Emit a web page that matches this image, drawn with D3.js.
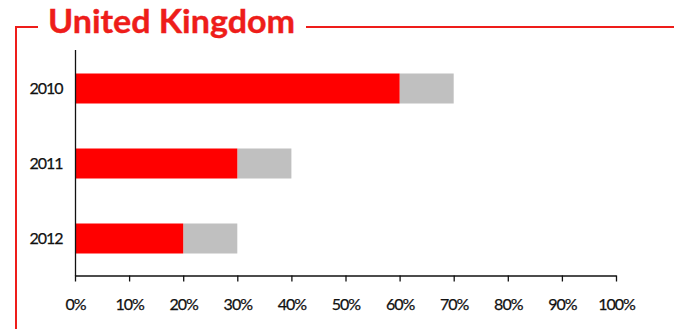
<!DOCTYPE html>
<html>
<head>
<meta charset="utf-8">
<script src="https://cdn.jsdelivr.net/npm/d3@7"></script>
<style>
  html, body { margin: 0; padding: 0; background: #fff; }
  svg { display: block; }
</style>
</head>
<body>
<svg id="chart" width="674" height="329"></svg>
<script>
// Chart content
const title = "United Kingdom";
const years = ["2010", "2011", "2012"];
const primaryShare = [60, 30, 20];   // red segment, %
const secondaryShare = [10, 10, 10]; // grey segment stacked on top, %
const tickValues = [0, 10, 20, 30, 40, 50, 60, 70, 80, 90, 100];

const W = 674, H = 329;
const svg = d3.select("#chart");
const font = "Lato, 'Open Sans', sans-serif";
const frameRed = "#ee1d1a";

// Frame: red rule running from the left edge behind the title
const frame = svg.append("g").attr("fill", "none").attr("stroke", frameRed).attr("stroke-width", 2);
frame.append("path").attr("d", `M16,${H} V27 H38`);
frame.append("path").attr("d", `M306,27 H${W}`);

// Title
svg.append("text")
  .attr("x", 48).attr("y", 33)
  .attr("font-family", font)
  .attr("font-weight", 700)
  .attr("font-size", 33)
  .attr("fill", frameRed)
  .attr("stroke", frameRed).attr("stroke-width", 0.4)
  .attr("textLength", 247)
  .attr("lengthAdjust", "spacingAndGlyphs")
  .text(title);

// Scales
const x = d3.scaleLinear().domain([0, 100]).range([75, 616]);
const y = d3.scaleBand().domain(years).range([51, 276]).paddingInner(0.6).paddingOuter(0.3);

// Bars: red primary segment followed by grey segment
const rows = years.map((yr, i) => ({ yr, a: primaryShare[i], b: secondaryShare[i] }));
const bars = svg.append("g");
bars.selectAll("rect.b").data(rows).join("rect")
  .attr("x", d => x(d.a))
  .attr("width", d => x(d.a + d.b) - x(d.a))
  .attr("y", d => y(d.yr))
  .attr("height", y.bandwidth())
  .attr("fill", "#c0c0c0");
bars.selectAll("rect.a").data(rows).join("rect")
  .attr("x", x(0))
  .attr("width", d => x(d.a) - x(0))
  .attr("y", d => y(d.yr))
  .attr("height", y.bandwidth())
  .attr("fill", "#ff0000");

// X axis
const xAxis = svg.append("g")
  .attr("transform", "translate(0,275.5)")
  .call(d3.axisBottom(x).tickValues(tickValues).tickFormat(d => d + "%").tickSize(6).tickSizeOuter(0).tickPadding(17));
xAxis.select(".domain").attr("stroke", "#111").attr("stroke-width", 1.3);
xAxis.selectAll(".tick line").attr("stroke", "#111").attr("stroke-width", 1.3);
xAxis.selectAll("text")
  .attr("font-family", font).attr("font-size", 16).attr("fill", "#111")
  .attr("stroke", "#111").attr("stroke-width", 0.25)
  .attr("letter-spacing", -1);

// Y axis
const yAxis = svg.append("g")
  .attr("transform", "translate(75.5,0)")
  .call(d3.axisLeft(y).tickSize(0).tickPadding(13));
yAxis.select(".domain").attr("d", "M0,50V276").attr("stroke", "#111").attr("stroke-width", 1.3);
yAxis.selectAll("text")
  .attr("font-family", font).attr("font-size", 16).attr("fill", "#111")
  .attr("stroke", "#111").attr("stroke-width", 0.25)
  .attr("letter-spacing", -1);
</script>
</body>
</html>
